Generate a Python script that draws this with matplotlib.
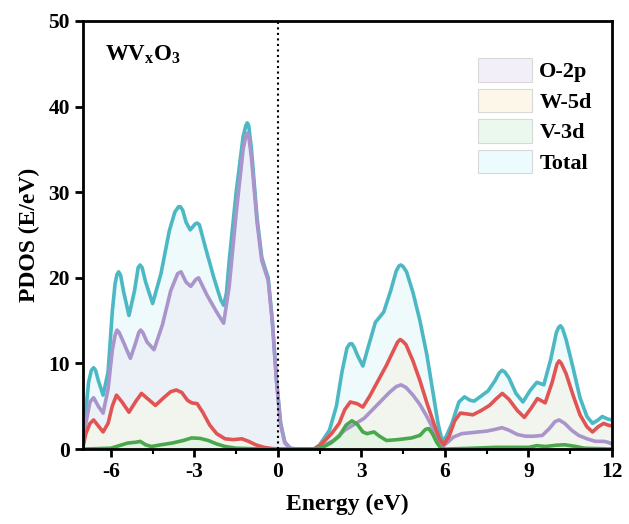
import matplotlib
matplotlib.use("Agg")
import matplotlib.pyplot as plt
from matplotlib.patches import Patch
from matplotlib.ticker import MultipleLocator

plt.rcParams['font.family'] = ['Liberation Serif', 'DejaVu Serif']
plt.rcParams['font.weight'] = 'bold'
plt.rcParams['axes.unicode_minus'] = False
plt.rcParams['mathtext.fontset'] = 'custom'
plt.rcParams['mathtext.rm'] = 'Liberation Serif:bold'
plt.rcParams['mathtext.it'] = 'Liberation Serif:bold'

# data
total_x = [-7.0, -6.9, -6.8, -6.7, -6.62, -6.55, -6.45, -6.28, -6.1, -5.95, -5.85, -5.78,
           -5.72, -5.65, -5.55, -5.35, -5.15, -5.02, -4.95, -4.88, -4.75, -4.5, -4.2, -3.9,
           -3.7, -3.57, -3.5, -3.42, -3.3, -3.15, -2.97, -2.9, -2.82, -2.6, -2.3, -2.05,
           -1.95, -1.85, -1.75, -1.5, -1.25, -1.15, -1.1, -1.05, -0.95, -0.75, -0.58, -0.45,
           -0.35, -0.2, -0.05, 0.1, 0.25, 0.45, 0.7, 1.3, 1.5, 1.85, 2.1, 2.3, 2.48, 2.58,
           2.66, 2.75, 2.85, 3.05, 3.25, 3.5, 3.8, 4.05, 4.25, 4.35, 4.42, 4.5, 4.62, 4.85,
           5.1, 5.35, 5.55, 5.75, 5.9, 6.05, 6.25, 6.5, 6.7, 6.9, 7.05, 7.3, 7.55, 7.8, 7.95,
           8.05, 8.15, 8.3, 8.55, 8.8, 9.05, 9.3, 9.55, 9.8, 10.0, 10.08, 10.15, 10.22, 10.35,
           10.6, 10.85, 11.1, 11.3, 11.5, 11.65, 11.85, 12.0]
total_y = [0.2, 4.5, 7.8, 9.2, 9.5, 9.2, 8.0, 6.3, 9.0, 16.0, 19.3, 20.4,
           20.7, 20.3, 18.5, 15.6, 18.5, 21.2, 21.5, 21.2, 19.5, 17.0, 20.5, 25.5,
           27.7, 28.3, 28.3, 27.9, 26.5, 25.6, 26.3, 26.4, 26.2, 23.5, 20.0, 17.4,
           16.8, 18.2, 22.0, 30.0, 36.5, 37.8, 38.1, 37.8, 35.0, 27.0, 22.4, 21.0,
           20.0, 15.0, 8.0, 3.0, 0.8, 0.1, 0.0, 0.0, 0.5, 2.2, 5.0, 9.0, 11.8, 12.3,
           12.3, 11.8, 11.0, 9.7, 12.0, 14.8, 16.0, 18.5, 20.8, 21.4, 21.5, 21.3, 20.7, 18.3,
           15.0, 11.0, 7.0, 3.0, 0.9, 1.5, 3.0, 5.5, 6.1, 5.7, 5.6, 6.2, 6.8, 8.0, 8.9,
           9.2, 9.0, 8.3, 6.5, 5.5, 6.8, 7.8, 7.5, 10.5, 13.6, 14.2, 14.4, 14.1, 12.8,
           9.5, 6.0, 3.8, 3.0, 3.4, 3.8, 3.5, 3.4]

o2p_x = [-7.0, -6.9, -6.75, -6.62, -6.45, -6.28, -6.1, -5.95, -5.85, -5.78, -5.7, -5.55,
         -5.3, -5.1, -5.0, -4.93, -4.85, -4.7, -4.45, -4.15, -3.85, -3.6, -3.48, -3.3,
         -3.13, -2.95, -2.85, -2.55, -2.2, -1.95, -1.75, -1.5, -1.25, -1.15, -1.1, -1.05,
         -0.95, -0.75, -0.58, -0.35, -0.2, -0.05, 0.1, 0.25, 0.45, 0.7, 1.3, 1.5, 2.0,
         2.4, 2.8, 3.1, 3.4, 3.7, 4.0, 4.25, 4.42, 4.6, 4.85, 5.1, 5.35, 5.6, 5.8, 5.95,
         6.1, 6.3, 6.6, 6.9, 7.2, 7.5, 7.8, 8.05, 8.3, 8.6, 8.9, 9.2, 9.5, 9.75, 9.95, 10.1,
         10.3, 10.55, 10.8, 11.1, 11.4, 11.7, 11.85, 12.0]
o2p_y = [0.3, 3.0, 5.5, 6.0, 5.0, 4.2, 7.0, 11.5, 13.3, 13.9, 13.6, 12.5,
         10.6, 12.5, 13.6, 13.9, 13.6, 12.5, 11.6, 14.5, 18.5, 20.5, 20.7, 19.5,
         19.0, 19.8, 20.0, 18.0, 16.0, 14.7, 19.0, 27.5, 35.0, 36.6, 36.9, 36.6,
         34.0, 26.5, 22.0, 19.7, 14.8, 7.8, 2.8, 0.7, 0.05, 0.0, 0.0, 0.2, 1.0,
         2.2, 3.0, 3.6, 4.6, 5.6, 6.6, 7.3, 7.5, 7.2, 6.3, 5.2, 3.8, 2.2, 0.9, 0.4,
         0.8, 1.4, 1.8, 1.9, 2.0, 2.1, 2.3, 2.5, 2.2, 1.7, 1.5, 1.5, 1.6, 2.4, 3.2, 3.4,
         3.0, 2.2, 1.6, 1.2, 0.9, 0.9, 0.8, 0.6]

w5d_x = [-7.0, -6.9, -6.75, -6.62, -6.45, -6.28, -6.1, -5.95, -5.8, -5.6, -5.35, -5.1,
         -4.9, -4.65, -4.4, -4.1, -3.85, -3.65, -3.45, -3.25, -3.1, -2.9, -2.7, -2.45,
         -2.2, -1.9, -1.6, -1.3, -1.05, -0.8, -0.5, -0.2, 0.2, 1.3, 1.5, 1.75, 1.95, 2.2,
         2.4, 2.6, 2.85, 3.05, 3.3, 3.6, 3.9, 4.15, 4.3, 4.39, 4.48, 4.6, 4.85, 5.1, 5.35,
         5.6, 5.8, 5.95, 6.15, 6.35, 6.55, 6.8, 7.0, 7.3, 7.6, 7.85, 8.06, 8.3, 8.6, 8.85,
         9.1, 9.32, 9.6, 9.85, 10.02, 10.1, 10.18, 10.35, 10.6, 10.85, 11.1, 11.3, 11.5,
         11.7, 11.85, 12.0]
w5d_y = [0.3, 1.8, 3.0, 3.4, 2.7, 2.0, 3.0, 5.0, 6.3, 5.5, 4.3, 5.6,
         6.5, 5.8, 5.1, 6.0, 6.7, 6.9, 6.6, 5.7, 5.4, 5.3, 4.3, 2.8,
         1.8, 1.2, 1.1, 1.2, 0.9, 0.5, 0.2, 0.05, 0.0, 0.0, 0.4, 1.2, 1.9, 3.0,
         4.6, 5.5, 5.3, 4.9, 6.2, 8.0, 9.8, 11.5, 12.5, 12.8, 12.6, 12.2, 10.3, 8.0, 5.4,
         3.0, 1.2, 0.5, 1.5, 3.3, 4.2, 4.1, 4.0, 4.5, 5.1, 5.9, 6.5, 5.8, 4.5, 3.7,
         4.8, 5.9, 5.4, 7.8, 9.9, 10.3, 10.0, 8.8, 6.3, 4.0, 2.6, 2.0, 2.6,
         3.0, 2.8, 2.7]

v3d_x = [-7.0, -6.5, -6.0, -5.7, -5.4, -5.1, -4.95, -4.75, -4.55, -4.2, -3.8, -3.4,
         -3.1, -2.8, -2.5, -2.2, -1.9, -1.5, -1.0, -0.5, 1.3, 1.6, 1.9, 2.2, 2.45, 2.66,
         2.85, 3.05, 3.2, 3.45, 3.65, 3.9, 4.3, 4.8, 5.1, 5.3, 5.42, 5.55, 5.7, 5.85, 6.0,
         6.5, 7.0, 7.8, 8.5, 9.0, 9.3, 9.6, 10.0, 10.3, 10.7, 11.0, 11.5, 12.0]
v3d_y = [0.0, 0.05, 0.1, 0.4, 0.7, 0.8, 0.9, 0.5, 0.3, 0.5, 0.7, 1.0,
         1.3, 1.25, 1.0, 0.6, 0.3, 0.1, 0.05, 0.0, 0.0, 0.2, 0.7, 1.5, 2.8, 3.3,
         2.9, 2.0, 1.8, 2.0, 1.5, 1.0, 1.1, 1.3, 1.6, 2.3, 2.4, 1.8, 0.8, 0.1, 0.0,
         0.05, 0.1, 0.2, 0.2, 0.2, 0.4, 0.3, 0.45, 0.5, 0.3, 0.1, 0.05, 0.0]

labels = ['O-2p', 'W-5d', 'V-3d', 'Total']
line_colors = {'Total': '#4cb8c4', 'O-2p': '#a994cc', 'W-5d': '#e25454', 'V-3d': '#4aa84c'}
fill_colors = {'Total': '#eefafb', 'O-2p': '#ecf1f8', 'W-5d': '#f1f5ee', 'V-3d': '#e6f4e6'}
patch_colors = {'Total': '#ecfbfd', 'O-2p': '#f2eff9', 'W-5d': '#fdf7ea', 'V-3d': '#ebf8ed'}

series = [('Total', total_x, total_y), ('O-2p', o2p_x, o2p_y),
          ('W-5d', w5d_x, w5d_y), ('V-3d', v3d_x, v3d_y)]

fig = plt.figure(figsize=(6.29, 5.24), dpi=100)
ax = fig.add_axes([0.132, 0.143, 0.841, 0.817])

for name, xs, ys in series:
    ax.fill_between(xs, 0, ys, color=fill_colors[name], lw=0)
for name, xs, ys in series:
    ax.plot(xs, ys, color=line_colors[name], lw=2.6, solid_joinstyle='round',
            solid_capstyle='round')

ax.axvline(0, color='black', ls=':', lw=1.5)

ax.set_xlim(-7, 12)
ax.set_ylim(0, 50)
ax.xaxis.set_major_locator(MultipleLocator(3))
ax.xaxis.set_minor_locator(MultipleLocator(1.5))
ax.yaxis.set_major_locator(MultipleLocator(10))
ax.tick_params(axis='both', which='major', direction='out', length=6, width=2,
               labelsize=15.5, top=False, right=False)
ax.tick_params(axis='x', which='minor', direction='out', length=3.5, width=1.5, top=False)
for sp in ax.spines.values():
    sp.set_linewidth(2)

ax.set_xlabel('Energy (eV)', fontsize=17, fontweight='bold', labelpad=8)
ax.set_ylabel('PDOS (E/eV)', fontsize=17, fontweight='bold', labelpad=6)

ax.text(-6.2, 46.0, r'WV$_{\mathrm{x}}$O$_{3}$', fontsize=16.5, fontweight='bold',
        ha='left', va='center')

handles = [Patch(facecolor=patch_colors[l], edgecolor='#d8d8d8', lw=0.8) for l in labels]
ax.legend(handles, labels, loc='upper left', bbox_to_anchor=(0.747, 0.913),
          frameon=False, handlelength=2.4, handleheight=1.25,
          labelspacing=0.28, handletextpad=0.35, borderpad=0, borderaxespad=0,
          prop={'weight': 'bold', 'size': 16})

fig.savefig('out.png', dpi=100)
